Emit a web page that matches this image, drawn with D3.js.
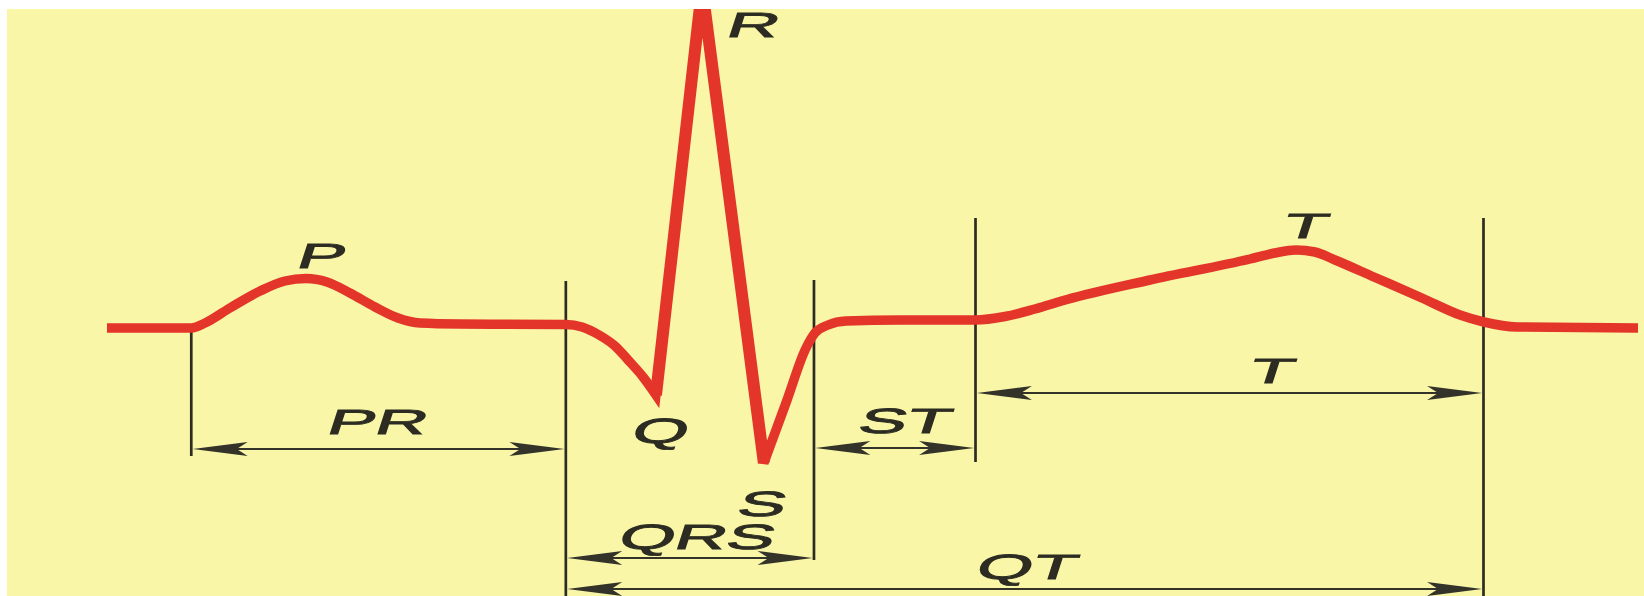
<!DOCTYPE html>
<html><head><meta charset="utf-8">
<script src="https://cdn.jsdelivr.net/npm/d3@7"></script>
<style>html,body{margin:0;padding:0;background:#fff;} svg{display:block;}</style>
</head><body>
<svg id="c" width="1644" height="596"></svg>
<script>
// ---- ECG trace: time (ms from P onset) and amplitude (mV) ----
// P wave, PR segment and Q descent
const waveTime = [-36, 0, 5.9, 16.5, 29.4, 40, 49, 58, 67.8, 78.5, 88.3, 97.7, 114.8, 160, 166.9, 174.2, 181, 186.6, 193, 198.5];
const waveAmp  = [-0.02, -0.02, 0.005, 0.08, 0.165, 0.215, 0.2275, 0.21, 0.155, 0.085, 0.03, 0.005, 0, -0.0025, -0.015, -0.055, -0.11, -0.18, -0.265, -0.355];
// Q -> R -> S spike
const qrsTime  = [198.5, 218.2, 244.6];
const qrsAmp   = [-0.355, 1.68, -0.695];
// S upstroke, ST segment, T wave, baseline
const restTime = [244.6, 254.5, 262.2, 266.4, 272, 279.7, 302.7, 334.8, 347.6, 360.4, 374.1, 409.5, 452.3, 462.9, 471.9, 480, 488.6, 505.2, 525.7, 542, 552.2, 566.3, 618];
const restAmp  = [-0.695, -0.38, -0.13, -0.045, -0.005, 0.015, 0.02, 0.02, 0.0375, 0.075, 0.1225, 0.22, 0.325, 0.355, 0.37, 0.36, 0.32, 0.235, 0.13, 0.045, 0.01, -0.015, -0.02];

// ---- wave labels ----
const waveLabels    = ["P", "R", "Q", "S", "T"];
const waveLabelTime = [56, 240.4, 200.7, 244.2, 476.2];
const waveLabelAmp  = [0.285, 1.44, -0.59, -0.955, 0.435];

// ---- interval markers (ms) ----
const intervalNames = ["PR", "QRS", "ST", "T", "QT"];
const intervalStart = [0, 160, 266, 335, 160];
const intervalEnd   = [160, 266, 335, 552, 552];
const boundaryTime  = [0, 160, 266, 335, 552];

// ---- layout ----
const W = 1644, H = 596;
const x = d3.scaleLinear().domain([-36, 618]).range([107, 1638]);
const y = d3.scaleLinear().domain([-1, 1.6]).range([524, 4]);
const svg = d3.select("#c");

svg.append("rect").attr("width", W).attr("height", H).attr("fill", "#ffffff");
svg.append("rect").attr("x", 7).attr("y", 9).attr("width", W - 7).attr("height", H - 9).attr("fill", "#f9f6a7");

const ink = "#2c2c22";
// boundary vertical lines: [top px, bottom px]
const boundaryExtent = [[328, 456], [281, 596], [280, 560], [218, 462], [218, 596]];
const gLines = svg.append("g");
boundaryTime.forEach((t, i) => {
  gLines.append("line")
    .attr("x1", x(t)).attr("x2", x(t))
    .attr("y1", boundaryExtent[i][0]).attr("y2", boundaryExtent[i][1])
    .attr("stroke", ink).attr("stroke-width", 2.7);
});

// interval arrows
const arrowY   = [449, 558, 448, 393, 589];
const labelY   = [434, 549, 433, 383, 579];
const labelDx  = [-4, 4, 7, 39, -1];
function head(px, py, dir) {
  const L = 55, Hh = 7, N = 44;
  return `M${px},${py} L${px - dir * L},${py - Hh} L${px - dir * N},${py} L${px - dir * L},${py + Hh} Z`;
}
const gArr = svg.append("g");
intervalNames.forEach((name, i) => {
  const x1 = x(intervalStart[i]) + 1.4, x2 = x(intervalEnd[i]) - 1.4, yy = arrowY[i];
  gArr.append("line").attr("x1", x1 + 20).attr("x2", x2 - 20).attr("y1", yy).attr("y2", yy)
    .attr("stroke", "#33332a").attr("stroke-width", 2.1);
  gArr.append("path").attr("d", head(x1, yy, -1)).attr("fill", "#33332a");
  gArr.append("path").attr("d", head(x2, yy, 1)).attr("fill", "#33332a");
});

function label(txt, cx, by) {
  svg.append("text")
    .attr("transform", `translate(${cx},${by}) skewX(-18) scale(2.05,1)`)
    .attr("text-anchor", "middle")
    .attr("font-family", "'Liberation Sans', Arial, sans-serif")
    .attr("font-size", 35)
    .attr("fill", ink)
    .attr("stroke", ink).attr("stroke-width", 0.9)
    .text(txt);
}
intervalNames.forEach((name, i) => {
  const cx = (x(intervalStart[i]) + x(intervalEnd[i])) / 2 + labelDx[i];
  label(name, cx, labelY[i]);
});
waveLabels.forEach((name, i) => label(name, x(waveLabelTime[i]) - 4, y(waveLabelAmp[i]) + 1));

// ECG trace
const smooth = d3.line().x(d => x(d[0])).y(d => y(d[1])).curve(d3.curveMonotoneX);
const straight = d3.line().x(d => x(d[0])).y(d => y(d[1]));
const segA = waveTime.map((t, i) => [t, waveAmp[i]]);
const segB = qrsTime.map((t, i) => [t, qrsAmp[i]]);
const segC = restTime.map((t, i) => [t, restAmp[i]]);
const dA = smooth(segA);
const dB = straight(segB.slice(1)).replace(/^M/, "L");
const dC = smooth(segC).replace(/^M[^CLZ]*/, "");
const red = "#e3352a";
svg.append("path").attr("d", dA + dB + dC)
  .attr("fill", "none").attr("stroke", red).attr("stroke-width", 9.5)
  .attr("stroke-linejoin", "miter").attr("stroke-miterlimit", 4);
svg.append("path").attr("d", straight(segB))
  .attr("fill", "none").attr("stroke", red).attr("stroke-width", 12)
  .attr("stroke-linejoin", "miter").attr("stroke-miterlimit", 4);

// white margin on top so the R apex is clipped like the reference
svg.append("rect").attr("width", W).attr("height", 9).attr("fill", "#ffffff");
</script>
</body></html>
